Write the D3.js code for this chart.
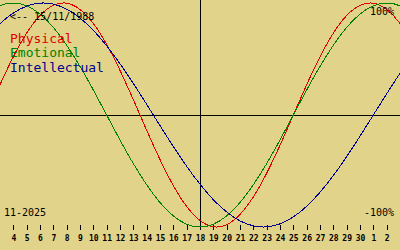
<!DOCTYPE html>
<html><head><meta charset="utf-8">
<script src="https://cdn.jsdelivr.net/npm/d3@7"></script>
<style>
html,body{margin:0;padding:0;background:#e1d48a;}
svg{display:block;}
text{font-family:"DejaVu Sans Mono",monospace;}
</style></head>
<body>
<script>
// Day numbers (Nov 2025; 31,32.. = Dec 1,2..)
const days = [2,3,4,5,6,7,8,9,10,11,12,13,14,15,16,17,18,19,20,21,22,23,24,25,26,27,28,29,30,31,32,33,34];
const physical = [0,0.270,0.520,0.731,0.888,0.979,0.998,0.942,0.817,0.631,0.398,0.136,-0.136,-0.398,-0.631,-0.817,-0.942,-0.998,-0.979,-0.888,-0.731,-0.520,-0.270,0,0.270,0.520,0.731,0.888,0.979,0.998,0.942,0.817,0.631];
const emotional = [0.901,0.975,1.000,0.975,0.901,0.782,0.623,0.434,0.223,0,-0.223,-0.434,-0.623,-0.782,-0.901,-0.975,-1.000,-0.975,-0.901,-0.782,-0.623,-0.434,-0.223,0,0.223,0.434,0.623,0.782,0.901,0.975,1.000,0.975,0.901];
const intellectual = [0.690,0.815,0.910,0.972,0.999,0.990,0.945,0.866,0.756,0.618,0.458,0.282,0.095,-0.095,-0.282,-0.458,-0.618,-0.756,-0.866,-0.945,-0.990,-0.999,-0.972,-0.910,-0.815,-0.690,-0.541,-0.372,-0.189,0,0.189,0.372,0.541];
const tickDays = [4,5,6,7,8,9,10,11,12,13,14,15,16,17,18,19,20,21,22,23,24,25,26,27,28,29,30,31,32];
const tickLabels = ["4","5","6","7","8","9","10","11","12","13","14","15","16","17","18","19","20","21","22","23","24","25","26","27","28","29","30","1","2"];
const today = 18;
const seriesNames = ["Physical","Emotional","Intellectual"];
const seriesColors = ["#e00000","#008000","#000090"];
const birthLabel = "<-- 15/11/1988";
const monthLabel = "11-2025";
const topLabel = "100%";
const bottomLabel = "-100%";

const W = 400, H = 250;
const svg = d3.select("body").append("svg").attr("width", W).attr("height", H);
svg.append("rect").attr("width", W).attr("height", H).attr("fill", "#e1d48a");

const x = d3.scaleLinear().domain([3, 33]).range([0, 400]);
const y = d3.scaleLinear().domain([-1, 1]).range([227, 3]);

// axes lines
svg.append("line").attr("x1", 0).attr("x2", W).attr("y1", 115.5).attr("y2", 115.5)
  .attr("stroke", "#000").attr("shape-rendering", "crispEdges");
svg.append("line").attr("x1", x(today) + 0.5).attr("x2", x(today) + 0.5).attr("y1", 0).attr("y2", 227)
  .attr("stroke", "#000").attr("shape-rendering", "crispEdges");

// bottom axis
const ax = svg.append("g").attr("transform", "translate(0,225)")
  .call(d3.axisBottom(x).tickValues(tickDays).tickSize(5).tickPadding(5)
    .tickFormat((d, i) => tickLabels[i]));
ax.select(".domain").remove();
ax.selectAll("line").attr("stroke", "#000").attr("shape-rendering", "crispEdges");
ax.selectAll("text").attr("fill", "#000").style("font-family", "'DejaVu Sans Mono',monospace")
  .style("font-size", "8px").style("font-weight", "bold");

// curves
const seriesData = [physical, emotional, intellectual];
const line = d3.line().x((d, i) => x(days[i])).y(d => y(d)).curve(d3.curveNatural);
svg.append("clipPath").attr("id", "c").append("rect").attr("width", W).attr("height", H);
seriesData.forEach((s, k) => {
  svg.append("path").attr("d", line(s)).attr("fill", "none")
    .attr("stroke", seriesColors[k]).attr("stroke-width", 1)
    .attr("shape-rendering", "crispEdges").attr("clip-path", "url(#c)");
});

// texts
svg.append("text").attr("x", 10).attr("y", 20).attr("font-size", 10).attr("fill", "#000").text(birthLabel);
seriesNames.forEach((n, k) => {
  svg.append("text").attr("x", 10).attr("y", 42.5 + k * 14.5).attr("font-size", 13)
    .attr("fill", seriesColors[k]).text(n);
});
svg.append("text").attr("x", 394).attr("y", 15).attr("font-size", 10).attr("text-anchor", "end").attr("fill", "#000").text(topLabel);
svg.append("text").attr("x", 394).attr("y", 216).attr("font-size", 10).attr("text-anchor", "end").attr("fill", "#000").text(bottomLabel);
svg.append("text").attr("x", 4).attr("y", 216).attr("font-size", 10).attr("fill", "#000").text(monthLabel);
</script>
</body></html>
